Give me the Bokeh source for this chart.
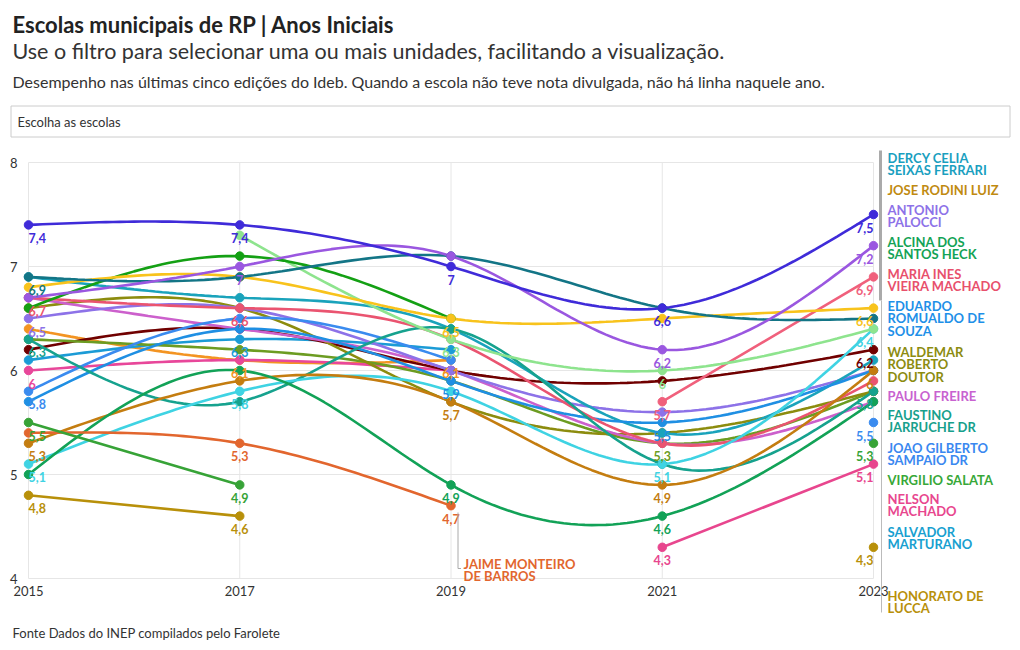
import numpy as np
from bokeh.plotting import figure
from bokeh.embed import file_html
from bokeh.resources import INLINE
from bokeh.models import FixedTicker
from bokeh.core.properties import value

nan = float("nan")

# ---------------- data ----------------
years = [2015, 2017, 2019, 2021, 2023]
y_ticks = [4, 5, 6, 7, 8]

indigo_school = [7.4, 7.4, 7.0, 6.6, 7.5]
purple_school = [6.7, 7.0, 7.1, 6.2, 7.2]
darkteal_school = [6.9, 6.9, 7.1, 6.6, 6.5]
yellow_school = [6.8, 6.9, 6.5, 6.5, 6.6]
dercy_celia = [6.9, 6.7, 6.4, 5.4, 6.1]
green_school = [6.6, 7.1, 6.5, nan, nan]
lightgreen_school = [nan, 7.3, 6.3, 6.0, 6.4]
maria_ines = [6.7, 6.6, 6.3, 5.3, 5.9]
rose_school = [nan, nan, nan, 5.7, 6.9]
waldemar = [6.6, 6.6, 5.7, 5.4, 5.8]
olivegreen_school = [6.3, 6.2, 5.9, 5.3, 5.8]
paulo_freire = [6.7, 6.4, 6.0, 5.3, 5.7]
antonio_palocci = [6.5, 6.6, 6.0, 5.6, 6.0]
faustino = [6.3, 5.7, 6.4, 5.1, 5.8]
maroon_school = [6.2, 6.4, 6.0, 5.9, 6.2]
salvador = [6.1, 6.3, 6.2, nan, nan]
pink_school = [6.0, 6.1, 6.0, nan, nan]
nelson = [nan, nan, nan, 4.3, 5.1]
joao_gilberto = [5.8, 6.5, 6.1, nan, 5.5]
eduardo = [5.7, 6.4, 5.9, 5.5, 6.0]
alcina = [5.0, 6.0, 4.9, 4.6, 5.7]
jose_rodini = [5.3, 5.9, 5.7, 4.9, 6.0]
cyan_school = [5.1, 5.8, 5.8, 5.1, 6.4]
virgilio = [5.5, 4.9, nan, nan, 5.3]
jaime = [5.4, 5.3, 4.7, nan, nan]
orange_school = [6.4, 6.1, 6.1, nan, nan]
honorato = [4.8, 4.6, nan, nan, 4.3]

# (values, colour, indices of years whose value is labelled)
series = [
    (orange_school, "#f39422", [1, 2]),
    (pink_school, "#e8479a", [0]),
    (salvador, "#1b9bd6", [1]),
    (maroon_school, "#700000", [4]),
    (olivegreen_school, "#6c9c22", [3]),
    (waldemar, "#8c8c0e", []),
    (paulo_freire, "#cc60cc", []),
    (antonio_palocci, "#8d72e8", [0]),
    (dercy_celia, "#1aa3bb", []),
    (eduardo, "#1f8fe3", [2, 3]),
    (joao_gilberto, "#3a8bef", [0, 4]),
    (maria_ines, "#ea5470", [0, 1]),
    (rose_school, "#f0607c", [3, 4]),
    (faustino, "#16a28e", [0, 4]),
    (cyan_school, "#3fd3e3", [0, 1, 3, 4]),
    (jose_rodini, "#c47d10", [0, 2, 3, 4]),
    (alcina, "#12a257", [2, 3]),
    (jaime, "#e2662e", [1, 2]),
    (virgilio, "#37a337", [0, 1, 4]),
    (honorato, "#b8900a", [0, 1, 4]),
    (nelson, "#e8468e", [3, 4]),
    (lightgreen_school, "#8ee48e", [2, 3]),
    (green_school, "#14a014", []),
    (yellow_school, "#f8c31c", [2, 4]),
    (darkteal_school, "#137586", [0]),
    (purple_school, "#9a57e0", [1, 3, 4]),
    (indigo_school, "#3f2bd9", [0, 1, 2, 3, 4]),
]

end_labels = [
    ("DERCY CELIA\nSEIXAS FERRARI", "#1a9fbf", 157),
    ("JOSE RODINI LUIZ", "#c08a10", 189),
    ("ANTONIO\nPALOCCI", "#8d72e8", 209),
    ("ALCINA DOS\nSANTOS HECK", "#13a356", 241),
    ("MARIA INES\nVIEIRA MACHADO", "#e8506c", 273),
    ("EDUARDO\nROMUALDO DE\nSOUZA", "#1e90e8", 305),
    ("WALDEMAR\nROBERTO\nDOUTOR", "#8c8c10", 351),
    ("PAULO FREIRE", "#c862d0", 395),
    ("FAUSTINO\nJARRUCHE DR", "#17a08c", 414),
    ("JOAO GILBERTO\nSAMPAIO DR", "#3a88f0", 447),
    ("VIRGILIO SALATA", "#38a838", 479),
    ("NELSON\nMACHADO", "#e8468e", 498),
    ("SALVADOR\nMARTURANO", "#18a0d0", 531),
    ("HONORATO DE\nLUCCA", "#b8900a", 595),
]

title = "Escolas municipais de RP | Anos Iniciais"
subtitle = "Use o filtro para selecionar uma ou mais unidades, facilitando a visualização."
description = ("Desempenho nas últimas cinco edições do Ideb. Quando a escola não teve "
               "nota divulgada, não há linha naquele ano.")
footer = "Fonte Dados do INEP compilados pelo Farolete"
filter_text = "Escolha as escolas"

# ---------------- layout helpers (pixel -> data) ----------------
W, H = 1020, 650
X0PX, X1PX = 28.0, 873.0
Y8PX, Y4PX = 162.0, 578.0
sx = (X1PX - X0PX) / (years[-1] - years[0])
sy = (Y4PX - Y8PX) / (y_ticks[-1] - y_ticks[0])
xs = years[0] - X0PX / sx
xe = xs + W / sx
ye = y_ticks[-1] + Y8PX / sy
ys = ye - H / sy


def dx(px):
    return xs + px / sx


def dy(py):
    return ye - py / sy


FONT = value("Lato")
LINE_GAP = 12.5

p = figure(width=W, height=H, x_range=(xs, xe), y_range=(ys, ye),
           min_border=0, toolbar_location=None, output_backend="svg")
p.outline_line_color = None
p.background_fill_color = "white"
p.border_fill_color = "white"
p.xgrid.visible = False
p.ygrid.visible = False

# axes placed at fixed locations
p.xaxis.fixed_location = y_ticks[0]
p.xaxis.ticker = FixedTicker(ticks=years)
p.yaxis.fixed_location = dx(19)
p.yaxis.ticker = FixedTicker(ticks=y_ticks)
for ax in (p.xaxis, p.yaxis):
    ax.axis_line_color = None
    ax.major_tick_line_color = None
    ax.minor_tick_line_color = None
    ax.major_tick_out = 0
    ax.major_tick_in = 0
    ax.major_label_text_font = "Lato"
    ax.major_label_text_font_size = "13px"
    ax.major_label_text_color = "#333333"
p.xaxis.major_label_standoff = 7
p.yaxis.major_label_standoff = 2

# gridlines within the data area
p.segment(x0=[years[0]] * len(y_ticks), x1=[years[-1]] * len(y_ticks),
          y0=y_ticks, y1=y_ticks, line_color="#e6e6e6", line_width=1)
p.segment(x0=years, x1=years, y0=[y_ticks[0]] * len(years),
          y1=[y_ticks[-1]] * len(years), line_color="#e6e6e6", line_width=1)


def natural_curve(xv, yv, steps=30):
    """Smooth drawing path (like a 'natural' curve) through the given points."""
    n = len(xv)
    if n < 3:
        return list(xv), list(yv)
    xv = np.asarray(xv, float)
    yv = np.asarray(yv, float)
    h = np.diff(xv)
    A = np.zeros((n, n))
    b = np.zeros(n)
    A[0, 0] = 1
    A[-1, -1] = 1
    for i in range(1, n - 1):
        A[i, i - 1] = h[i - 1]
        A[i, i] = 2 * (h[i - 1] + h[i])
        A[i, i + 1] = h[i]
        b[i] = 6 * ((yv[i + 1] - yv[i]) / h[i] - (yv[i] - yv[i - 1]) / h[i - 1])
    M = np.linalg.solve(A, b)
    outx, outy = [], []
    for i in range(n - 1):
        t = np.linspace(xv[i], xv[i + 1], steps, endpoint=(i == n - 2))
        hi = h[i]
        s = (M[i] * (xv[i + 1] - t) ** 3 / (6 * hi) + M[i + 1] * (t - xv[i]) ** 3 / (6 * hi)
             + (yv[i] / hi - M[i] * hi / 6) * (xv[i + 1] - t)
             + (yv[i + 1] / hi - M[i + 1] * hi / 6) * (t - xv[i]))
        outx.extend(t.tolist())
        outy.extend(s.tolist())
    return outx, outy


def runs(vals):
    cur = []
    for yr, v in zip(years, vals):
        if v == v:
            cur.append((yr, v))
        else:
            if cur:
                yield cur
            cur = []
    if cur:
        yield cur


def fmt(v):
    s = f"{v:.1f}".replace(".", ",")
    return s[:-2] if s.endswith(",0") else s


def multiline(x_px, first_center_px, txt, col, size="13px"):
    for k, line in enumerate(txt.split("\n")):
        p.text([dx(x_px)], [dy(first_center_px + k * LINE_GAP)], text=[line],
               text_color=col, text_font=FONT, text_font_size=size,
               text_font_style="bold", text_baseline="middle")


# lines
for vals, col, _ in series:
    for run in runs(vals):
        if len(run) >= 2:
            cx, cy = natural_curve([r[0] for r in run], [r[1] for r in run])
            p.line(cx, cy, line_color=col, line_width=2.6, line_cap="round")

# points
for vals, col, _ in series:
    px = [yr for yr, v in zip(years, vals) if v == v]
    py = [v for v in vals if v == v]
    p.scatter(px, py, size=8.5, fill_color=col, line_color=col)

# value labels
for vals, col, idxs in series:
    for i in idxs:
        v = vals[i]
        if v != v:
            continue
        align = "left" if i == 0 else ("right" if i == len(years) - 1 else "center")
        p.text([years[i]], [v], text=[fmt(v)], text_color=col, text_font=FONT,
               text_font_size="12.5px", text_font_style="bold", text_align=align,
               text_baseline="middle", y_offset=13)

# Jaime annotation
p.line([2019 + 7 / sx, 2019 + 7 / sx, 2019 + 10 / sx], [dy(512), dy(568), dy(568)],
       line_color="#aaaaaa", line_width=1)
multiline(463, 563, "JAIME MONTEIRO\nDE BARROS", "#e2662e")

# connector bar of the end labels
p.line([dx(880), dx(880)], [dy(150), dy(300)], line_color="#aaaaaa", line_width=3)
p.line([dx(881), dx(881)], [dy(300), dy(612)], line_color="#bbbbbb", line_width=1)

for txt, col, cpx in end_labels:
    multiline(887, cpx, txt, col)

# header / filter box / footer
p.text([dx(12)], [dy(24)], text=[title], text_font=FONT, text_font_size="22px",
       text_font_style="bold", text_color="#222222", text_baseline="middle")
p.text([dx(12)], [dy(50)], text=[subtitle], text_font=FONT, text_font_size="21.5px",
       text_color="#333333", text_baseline="middle")
p.text([dx(12)], [dy(81)], text=[description], text_font=FONT, text_font_size="16px",
       text_color="#333333", text_baseline="middle")
p.quad(left=[dx(10.5)], right=[dx(1009.5)], top=[dy(105.5)], bottom=[dy(136.5)],
       fill_color="white", line_color="#cccccc", line_width=1)
p.text([dx(17)], [dy(121)], text=[filter_text], text_font=FONT, text_font_size="13px",
       text_color="#333333", text_baseline="middle")
p.text([dx(12)], [dy(632)], text=[footer], text_font=FONT, text_font_size="13px",
       text_color="#333333", text_baseline="middle")

open("out.html", "w").write(file_html(p, INLINE))
